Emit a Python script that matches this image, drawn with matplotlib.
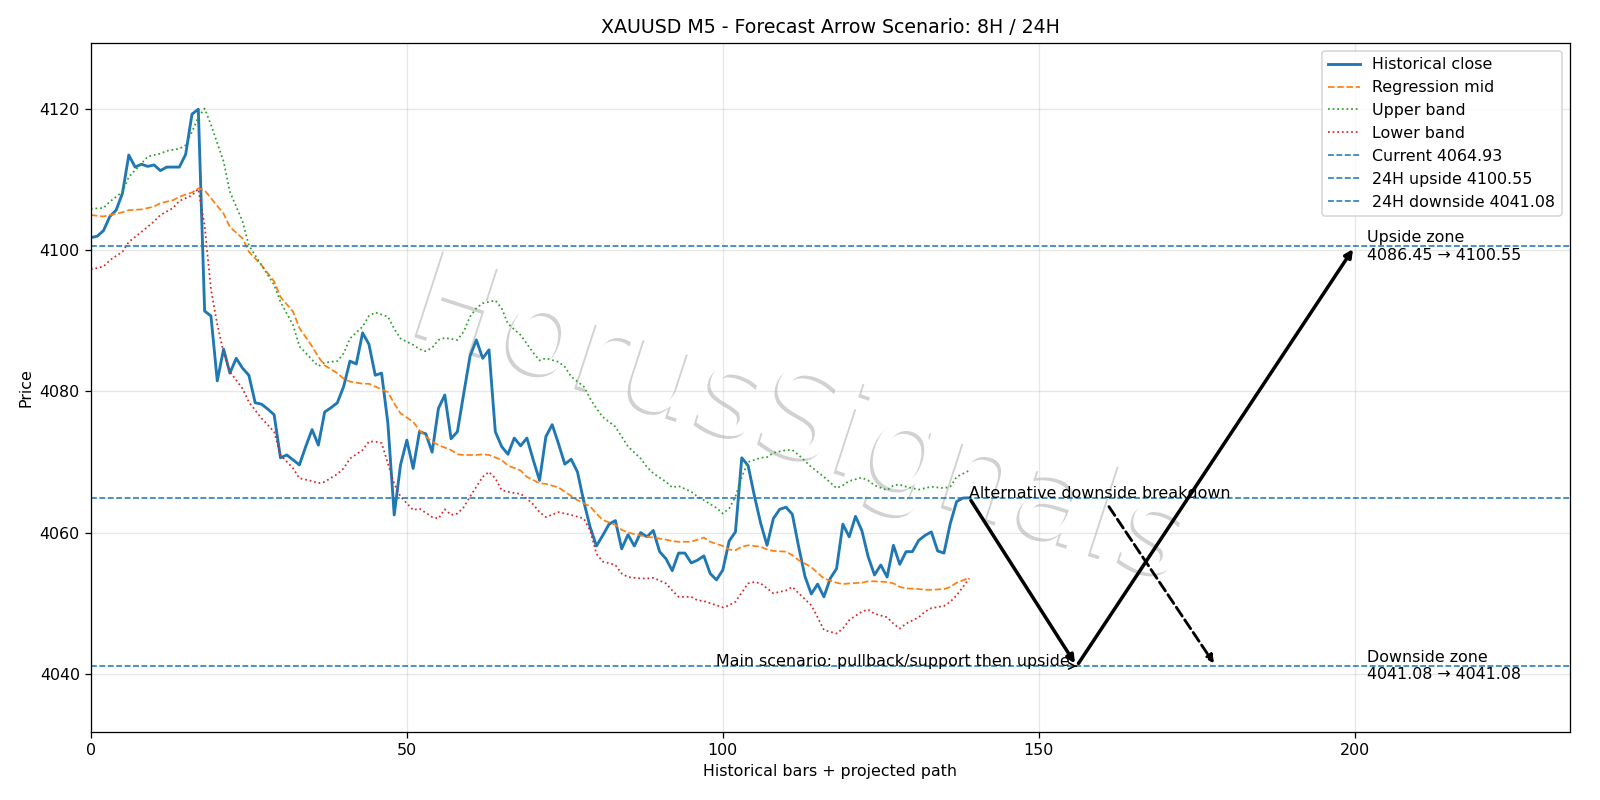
import numpy as np
import matplotlib.pyplot as plt
import matplotlib.patheffects as pe

# key levels
current = 4064.93
up_target = 4100.55
up_zone_low = 4086.45
down_target = 4041.08

# projected path (bar index)
pivot_x = 156
target_x = 200
alt_x = 178

close = np.array([
    4101.8, 4102.0, 4102.8, 4104.8, 4105.7, 4108.1, 4113.5, 4111.8, 4112.2, 4111.9,
    4112.1, 4111.3, 4111.8, 4111.8, 4111.8, 4113.6, 4119.3, 4120.0, 4091.4, 4090.7,
    4081.5, 4086.0, 4082.6, 4084.7, 4083.3, 4082.3, 4078.4, 4078.2, 4077.5, 4076.7,
    4070.6, 4071.0, 4070.3, 4069.6, 4072.2, 4074.6, 4072.4, 4077.1, 4077.7, 4078.4,
    4080.7, 4084.3, 4083.9, 4088.3, 4086.7, 4082.3, 4082.6, 4075.5, 4062.5, 4069.6,
    4073.1, 4069.1, 4074.3, 4074.0, 4071.4, 4077.6, 4079.5, 4073.3, 4074.3, 4079.7,
    4085.0, 4087.3, 4084.7, 4085.9, 4074.3, 4072.2, 4071.1, 4073.4, 4072.3, 4073.4,
    4070.3, 4067.4, 4073.6, 4075.3, 4072.6, 4069.7, 4070.4, 4068.6, 4064.4, 4060.8,
    4058.1, 4059.6, 4061.2, 4061.7, 4057.7, 4059.7, 4058.1, 4060.0, 4059.4, 4060.3,
    4057.3, 4056.3, 4054.6, 4057.1, 4057.1, 4055.7, 4056.1, 4056.7, 4054.2, 4053.3,
    4054.7, 4058.8, 4060.1, 4070.6, 4069.5, 4065.2, 4061.3, 4058.2, 4062.0, 4063.3,
    4063.6, 4062.6, 4058.0, 4053.8, 4051.3, 4052.7, 4050.9, 4053.5, 4054.9, 4061.2,
    4059.4, 4062.3, 4060.3, 4056.6, 4054.0, 4055.4, 4053.7, 4058.2, 4055.5, 4057.3,
    4057.3, 4058.9, 4059.6, 4060.1, 4057.4, 4057.1, 4061.3, 4064.4, 4064.9, 4064.93,
])
bars = np.arange(len(close))

upper_x = [0, 2, 3, 5, 6, 8, 9, 11, 12, 14, 15, 16, 17, 18, 19, 21, 22, 24, 25, 27,
           29, 30, 32, 33, 35, 36, 37, 39, 40, 41, 43, 44, 45, 47, 48, 49, 51, 52, 53, 54,
           55, 56, 58, 59, 60, 61, 62, 64, 65, 66, 68, 70, 71, 72, 74, 75, 76, 78, 79, 80,
           81, 83, 84, 85, 87, 88, 89, 91, 92, 93, 95, 96, 97, 99, 100, 101, 102, 103, 104, 106,
           107, 108, 110, 111, 112, 114, 115, 116, 118, 119, 120, 122, 123, 124, 126, 127, 128, 129, 131, 132,
           133, 135, 136, 137, 139]
upper = [4105.9, 4106.0, 4106.9, 4108.3, 4110.4, 4112.3, 4113.3, 4113.7, 4114.1, 4114.4,
         4114.9, 4116.8, 4118.9, 4120.1, 4117.8, 4112.6, 4108.3, 4104.1, 4100.7, 4097.9,
         4095.1, 4092.7, 4089.4, 4086.4, 4084.5, 4083.6, 4084.1, 4084.3, 4085.4, 4087.5,
         4089.2, 4090.7, 4091.2, 4090.6, 4088.9, 4087.5, 4086.6, 4086.0, 4085.7, 4086.2,
         4087.3, 4087.6, 4087.3, 4088.5, 4090.6, 4091.8, 4092.5, 4092.9, 4091.8, 4089.6,
         4088.0, 4085.5, 4084.4, 4084.7, 4084.2, 4083.5, 4082.1, 4080.7, 4079.0, 4077.6,
         4076.4, 4075.0, 4073.6, 4072.2, 4070.5, 4069.3, 4068.4, 4067.2, 4066.4, 4066.6,
         4065.8, 4065.1, 4064.6, 4063.5, 4062.7, 4063.4, 4065.1, 4067.9, 4070.0, 4070.6,
         4070.7, 4071.3, 4071.7, 4071.7, 4071.0, 4069.3, 4068.6, 4067.9, 4066.3, 4066.7,
         4067.3, 4067.8, 4067.4, 4066.7, 4066.0, 4066.7, 4066.8, 4066.5, 4066.1, 4066.3,
         4066.5, 4066.3, 4066.5, 4067.9, 4068.8]

mid_x = [0, 2, 3, 5, 6, 8, 10, 11, 13, 14, 16, 17, 18, 19, 21, 22, 24, 25, 27, 29,
         30, 32, 33, 35, 36, 37, 39, 40, 41, 43, 44, 45, 47, 48, 49, 51, 52, 53, 54, 55,
         57, 58, 59, 61, 62, 63, 65, 66, 68, 69, 71, 72, 74, 75, 76, 77, 79, 80, 81, 83,
         84, 85, 87, 88, 89, 91, 92, 93, 95, 97, 98, 100, 101, 102, 103, 104, 106, 107, 108, 110,
         111, 112, 114, 115, 116, 118, 119, 120, 122, 123, 124, 126, 127, 128, 129, 131, 132, 133, 135, 136,
         137, 139]
mid = [4105.0, 4104.8, 4105.0, 4105.4, 4105.7, 4105.8, 4106.2, 4106.7, 4107.1, 4107.6,
       4108.2, 4108.8, 4108.5, 4107.4, 4105.2, 4103.3, 4101.7, 4099.8, 4097.9, 4095.6,
       4093.4, 4091.3, 4089.0, 4086.4, 4084.9, 4083.7, 4082.6, 4081.8, 4081.4, 4081.1,
       4081.1, 4080.7, 4079.9, 4078.3, 4076.9, 4075.7, 4074.5, 4073.6, 4072.9, 4072.4,
       4071.7, 4071.1, 4071.0, 4071.0, 4071.1, 4071.0, 4070.3, 4069.5, 4068.8, 4067.9,
       4067.0, 4066.9, 4066.4, 4065.8, 4065.2, 4064.6, 4063.7, 4062.7, 4061.8, 4061.1,
       4060.4, 4060.0, 4059.6, 4059.4, 4059.3, 4059.0, 4058.8, 4058.7, 4058.7, 4059.3,
       4058.7, 4058.1, 4057.6, 4057.5, 4058.0, 4058.2, 4058.0, 4057.6, 4057.4, 4057.3,
       4056.8, 4056.1, 4055.1, 4054.3, 4053.5, 4052.9, 4052.7, 4052.8, 4052.9, 4053.1,
       4053.1, 4053.0, 4052.8, 4052.3, 4052.1, 4052.0, 4051.9, 4051.9, 4052.0, 4052.3,
       4052.9, 4053.6]

lower_x = [0, 2, 3, 5, 6, 8, 10, 11, 13, 14, 16, 17, 18, 19, 20, 21, 22, 24, 25, 27,
           29, 30, 32, 33, 35, 36, 37, 39, 40, 41, 43, 44, 45, 46, 47, 48, 49, 51, 52, 54,
           55, 56, 57, 58, 59, 60, 61, 62, 63, 64, 65, 66, 67, 68, 69, 70, 71, 72, 74, 75,
           76, 78, 79, 80, 81, 83, 84, 85, 87, 88, 89, 91, 92, 93, 95, 96, 97, 99, 100, 101,
           102, 104, 105, 106, 107, 108, 110, 111, 112, 114, 115, 116, 118, 119, 120, 122, 123, 124, 126, 127,
           128, 129, 131, 132, 133, 135, 136, 137, 139]
lower = [4097.3, 4097.7, 4098.6, 4099.8, 4101.2, 4102.6, 4104.1, 4105.0, 4106.0, 4107.0,
         4107.8, 4108.7, 4103.5, 4094.5, 4089.5, 4085.5, 4082.8, 4080.4, 4078.5, 4076.2,
         4074.3, 4071.0, 4069.1, 4067.7, 4067.3, 4067.0, 4067.2, 4068.3, 4069.1, 4070.5,
         4071.7, 4072.9, 4072.9, 4072.7, 4069.8, 4066.9, 4065.1, 4063.2, 4063.4, 4062.2,
         4062.0, 4063.3, 4062.5, 4062.7, 4063.6, 4065.1, 4066.5, 4067.9, 4068.6, 4067.7,
         4066.0, 4065.8, 4065.6, 4065.5, 4064.8, 4064.0, 4062.9, 4062.2, 4062.9, 4062.7,
         4062.5, 4062.0, 4060.3, 4057.0, 4055.9, 4055.4, 4054.2, 4053.7, 4053.5, 4053.5,
         4053.6, 4052.8, 4051.8, 4050.9, 4050.9, 4050.4, 4050.3, 4049.7, 4049.4, 4049.7,
         4050.2, 4052.8, 4053.0, 4052.8, 4052.1, 4051.4, 4051.8, 4052.3, 4051.4, 4049.7,
         4048.0, 4046.2, 4045.7, 4046.4, 4047.6, 4048.8, 4049.1, 4048.5, 4048.0, 4047.1,
         4046.4, 4047.1, 4048.0, 4048.8, 4049.3, 4049.6, 4050.2, 4051.1, 4053.5]

fig, ax = plt.subplots(figsize=(14, 7), dpi=800 / 7)
fig.subplots_adjust(left=0.0568, right=0.981, top=0.9464, bottom=0.0855)

ax.plot(bars, close, color="C0", lw=1.8, label="Historical close")
ax.plot(mid_x, mid, "--", color="C1", lw=1.1, label="Regression mid")
ax.plot(upper_x, upper, ":", color="C2", lw=1.1, label="Upper band")
ax.plot(lower_x, lower, ":", color="C3", lw=1.1, label="Lower band")

ax.axhline(current, ls="--", lw=1, color="C0", label=f"Current {current:.2f}")
ax.axhline(up_target, ls="--", lw=1, color="C0", label=f"24H upside {up_target:.2f}")
ax.axhline(down_target, ls="--", lw=1, color="C0", label=f"24H downside {down_target:.2f}")

last = bars[-1]
ax.annotate("", xy=(pivot_x, down_target), xytext=(last, current),
            arrowprops=dict(arrowstyle="-|>", lw=2.2, color="black"))
ax.annotate("", xy=(target_x, up_target), xytext=(pivot_x, down_target),
            arrowprops=dict(arrowstyle="-|>", lw=2.2, color="black"))
ax.annotate("Main scenario: pullback/support then upside",
            xy=(pivot_x, down_target), xytext=(last - 40, down_target),
            arrowprops=dict(arrowstyle="->", lw=1, color="black"))
ax.annotate("Alternative downside breakdown",
            xy=(alt_x, down_target), xytext=(last, current),
            arrowprops=dict(arrowstyle="-|>", lw=1.8, ls="--", color="black"))

ax.text(target_x + 2, up_target, f"Upside zone\n{up_zone_low:.2f} → {up_target:.2f}", va="center")
ax.text(target_x + 2, down_target, f"Downside zone\n{down_target:.2f} → {down_target:.2f}", va="center")

# watermark
ax.text(0.5, 0.472, "HorusSignals", transform=fig.transFigure, fontsize=78, rotation=-18,
        ha="center", va="center", color="white", zorder=0.5,
        path_effects=[pe.withSimplePatchShadow(offset=(-1.8, -1.8), shadow_rgbFace="0.6", alpha=0.45)])

ax.set_xlim(0, 234)
ax.set_ylim(4031.8, 4129.4)
ax.set_title("XAUUSD M5 - Forecast Arrow Scenario: 8H / 24H")
ax.set_xlabel("Historical bars + projected path")
ax.set_ylabel("Price")
ax.grid(True, alpha=0.3)
ax.legend(loc="upper right")

fig.savefig("out.png")
